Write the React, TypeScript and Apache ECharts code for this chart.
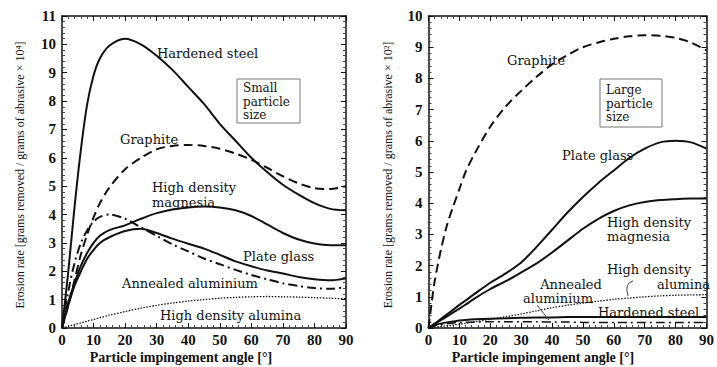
import React, { useEffect, useRef } from "react";
import * as echarts from "echarts";

// ---------- Left panel: small particle size ----------
const anglesL = [0, 2, 4, 6, 8, 10, 12, 15, 20, 25, 30, 35, 40, 45, 50, 55, 60, 65, 70, 75, 80, 85, 90];
const steelL = [0, 2.0, 4.3, 6.3, 7.9, 8.9, 9.5, 9.95, 10.2, 10.0, 9.6, 9.1, 8.5, 7.9, 7.2, 6.6, 6.0, 5.5, 5.05, 4.7, 4.4, 4.2, 4.15];
const graphiteL = [0, 0.8, 1.7, 2.6, 3.3, 3.9, 4.4, 4.95, 5.6, 6.0, 6.3, 6.42, 6.45, 6.42, 6.32, 6.15, 5.93, 5.65, 5.35, 5.1, 4.93, 4.9, 5.0];
const magnesiaL = [0, 0.9, 1.6, 2.2, 2.65, 3.0, 3.25, 3.45, 3.62, 3.85, 4.05, 4.18, 4.25, 4.28, 4.25, 4.15, 3.95, 3.65, 3.35, 3.12, 2.98, 2.92, 2.92];
const plateGlassL = [0, 0.8, 1.5, 2.0, 2.45, 2.75, 3.0, 3.2, 3.42, 3.5, 3.35, 3.15, 2.97, 2.8, 2.58, 2.35, 2.18, 2.03, 1.92, 1.8, 1.72, 1.68, 1.75];
const aluminiumL = [0, 1.3, 2.3, 3.0, 3.45, 3.75, 3.92, 4.0, 3.85, 3.55, 3.25, 2.95, 2.7, 2.45, 2.25, 2.05, 1.87, 1.72, 1.58, 1.48, 1.41, 1.38, 1.45];
const aluminaL = [0, 0.06, 0.12, 0.18, 0.24, 0.3, 0.36, 0.45, 0.58, 0.7, 0.8, 0.88, 0.95, 1.0, 1.05, 1.08, 1.1, 1.11, 1.1, 1.09, 1.07, 1.05, 1.03];

// ---------- Right panel: large particle size ----------
const anglesR = [0, 1, 2, 4, 6, 8, 10, 12, 15, 20, 25, 30, 35, 40, 45, 50, 55, 60, 65, 70, 75, 80, 85, 90];
const graphiteR = [0, 0.8, 1.5, 2.5, 3.3, 3.9, 4.45, 5.0, 5.6, 6.45, 7.1, 7.6, 8.05, 8.45, 8.75, 9.0, 9.15, 9.27, 9.35, 9.38, 9.37, 9.3, 9.15, 8.9];
const plateGlassR = [0, 0.07, 0.14, 0.29, 0.44, 0.59, 0.74, 0.88, 1.1, 1.45, 1.75, 2.1, 2.6, 3.15, 3.7, 4.2, 4.65, 5.05, 5.45, 5.75, 5.95, 6.0, 5.95, 5.75];
const magnesiaR = [0, 0.06, 0.12, 0.25, 0.37, 0.5, 0.62, 0.75, 0.95, 1.25, 1.5, 1.78, 2.07, 2.42, 2.8, 3.18, 3.5, 3.75, 3.93, 4.04, 4.1, 4.13, 4.15, 4.15];
const aluminaR = [0, 0.01, 0.02, 0.05, 0.07, 0.1, 0.12, 0.15, 0.2, 0.28, 0.36, 0.45, 0.55, 0.65, 0.73, 0.8, 0.86, 0.92, 0.96, 1.0, 1.03, 1.05, 1.06, 1.07];
const steelR = [0, 0.05, 0.09, 0.14, 0.18, 0.21, 0.24, 0.26, 0.28, 0.3, 0.31, 0.33, 0.34, 0.34, 0.35, 0.35, 0.35, 0.35, 0.35, 0.35, 0.35, 0.35, 0.35, 0.35];
const aluminiumR = [0, 0.04, 0.07, 0.11, 0.14, 0.16, 0.17, 0.18, 0.19, 0.2, 0.2, 0.2, 0.2, 0.19, 0.19, 0.18, 0.18, 0.18, 0.18, 0.18, 0.18, 0.18, 0.18, 0.18];

const xTicks = [0, 10, 20, 30, 40, 50, 60, 70, 80, 90];

const INK = "#111111";
const SERIF = "'Liberation Serif', 'DejaVu Serif', serif";
const LABEL = "'DejaVu Serif', 'Liberation Serif', serif";

function pairs(xs: number[], ys: number[]) {
  return xs.map((x, i) => [x, ys[i]]);
}

type Style = "solid" | "dashed" | "dashdot" | "dotted";
function lineType(s: Style): any {
  if (s === "dashed") return [9, 5];
  if (s === "dashdot") return [9, 4, 2, 4];
  if (s === "dotted") return [1.5, 1.5];
  return "solid";
}

function mk(name: string, xs: number[], ys: number[], gi: number, st: Style, w = 2) {
  return {
    name,
    type: "line",
    xAxisIndex: gi * 2,
    yAxisIndex: gi * 2,
    data: pairs(xs, ys),
    smooth: 0.3,
    showSymbol: false,
    symbol: "none",
    lineStyle: { color: INK, width: st === "dotted" ? 1.3 : w, type: lineType(st) },
    z: 3,
  };
}

function xAxisPair(gi: number) {
  const base = {
    type: "value",
    gridIndex: gi,
    min: 0,
    max: 90,
    interval: 10,
    splitLine: { show: false },
    axisLine: { show: true, onZero: false, lineStyle: { color: INK, width: 1.5 } },
    axisTick: { show: true, inside: true, length: 5, lineStyle: { color: INK } },
    minorTick: { show: true, splitNumber: 5, length: 3, lineStyle: { color: "#444" } },
  };
  return [
    {
      ...base,
      position: "bottom",
      axisLabel: {
        show: true,
        margin: 4,
        color: INK,
        fontFamily: SERIF,
        fontSize: 15,
        fontWeight: "bold",
        formatter: (v: number) => (xTicks.includes(v) ? String(v) : ""),
      },
    },
    { ...base, position: "top", axisLabel: { show: false } },
  ];
}

function yAxisPair(gi: number, max: number) {
  const base = {
    type: "value",
    gridIndex: gi,
    min: 0,
    max,
    interval: 1,
    splitLine: { show: false },
    axisLine: { show: true, onZero: false, lineStyle: { color: INK, width: 1.5 } },
    axisTick: { show: true, inside: true, length: 5, lineStyle: { color: INK } },
    minorTick: { show: true, splitNumber: 5, length: 3, lineStyle: { color: "#444" } },
  };
  return [
    {
      ...base,
      position: "left",
      axisLabel: { show: true, margin: 6, color: INK, fontFamily: SERIF, fontSize: 15, fontWeight: "bold" },
    },
    { ...base, position: "right", axisLabel: { show: false } },
  ];
}

function txt(text: string, x: number, y: number, opts: any = {}) {
  return {
    type: "text",
    x,
    y,
    z: 10,
    style: {
      text,
      fill: INK,
      fontFamily: opts.family ?? LABEL,
      fontSize: opts.size ?? 13,
      fontWeight: opts.weight ?? "normal",
      align: opts.align ?? "left",
      verticalAlign: "middle",
    },
    rotation: opts.rot ?? 0,
  };
}

export default function App() {
  const ref = useRef<HTMLDivElement>(null);
  useEffect(() => {
    document.body.style.margin = "0";
    const chart = echarts.init(ref.current!, undefined, { renderer: "svg" });
    const option: any = {
      animation: false,
      backgroundColor: "#ffffff",
      grid: [
        { left: 62, top: 16, width: 284, height: 312 },
        { left: 428.5, top: 16, width: 284, height: 312 },
      ],
      xAxis: [...xAxisPair(0), ...xAxisPair(1)],
      yAxis: [...yAxisPair(0, 11), ...yAxisPair(1, 10)],
      series: [
        mk("Hardened steel", anglesL, steelL, 0, "solid"),
        mk("Graphite", anglesL, graphiteL, 0, "dashed"),
        mk("High density magnesia", anglesL, magnesiaL, 0, "solid"),
        mk("Plate glass", anglesL, plateGlassL, 0, "solid"),
        mk("Annealed aluminium", anglesL, aluminiumL, 0, "dashdot"),
        mk("High density alumina", anglesL, aluminaL, 0, "dotted"),
        mk("Graphite (large)", anglesR, graphiteR, 1, "dashed"),
        mk("Plate glass (large)", anglesR, plateGlassR, 1, "solid"),
        mk("High density magnesia (large)", anglesR, magnesiaR, 1, "solid"),
        mk("High density alumina (large)", anglesR, aluminaR, 1, "dotted"),
        mk("Hardened steel (large)", anglesR, steelR, 1, "solid"),
        mk("Annealed aluminium (large)", anglesR, aluminiumR, 1, "dashdot", 1.5),
      ],
      graphic: [
        // axis titles
        txt("Erosion rate [grams removed / grams of abrasive × 10⁴]", 20, 175, { rot: Math.PI / 2, size: 12, family: SERIF, align: "center" }),
        txt("Erosion rate [grams removed / grams of abrasive × 10²]", 388, 175, { rot: Math.PI / 2, size: 12, family: SERIF, align: "center" }),
        txt("Particle impingement angle [°]", 181, 357, { size: 14, family: SERIF, weight: "bold", align: "center" }),
        txt("Particle impingement angle [°]", 543, 357, { size: 14, family: SERIF, weight: "bold", align: "center" }),
        // left panel labels
        txt("Hardened steel", 157, 53),
        txt("Graphite", 120, 139),
        txt("High density", 152, 187),
        txt("magnesia", 152, 202),
        txt("Plate glass", 243, 256),
        txt("Annealed aluminium", 122, 283),
        txt("High density alumina", 160, 315),
        {
          type: "rect",
          shape: { x: 237, y: 79, width: 63, height: 44 },
          style: { fill: "none", stroke: "#777", lineWidth: 1 },
          z: 9,
        },
        txt("Small", 243, 88, { size: 12 }),
        txt("particle", 243, 101.5, { size: 12 }),
        txt("size", 243, 115, { size: 12 }),
        // right panel labels
        txt("Graphite", 507, 60),
        {
          type: "rect",
          shape: { x: 600, y: 79, width: 62, height: 48 },
          style: { fill: "none", stroke: "#777", lineWidth: 1 },
          z: 9,
        },
        txt("Large", 606, 90, { size: 12 }),
        txt("particle", 606, 103.5, { size: 12 }),
        txt("size", 606, 117, { size: 12 }),
        txt("Plate glass", 562, 155),
        txt("High density", 607, 222),
        txt("magnesia", 607, 236),
        txt("High density", 607, 269),
        txt("alumina", 710, 284, { align: "right" }),
        txt("Annealed", 571, 284, { align: "center" }),
        txt("aluminium", 558, 298, { align: "center" }),
        txt("Hardened steel", 598, 312),
        {
          type: "bezierCurve",
          shape: { x1: 633, y1: 281, cpx1: 624, cpy1: 283, x2: 628, y2: 296 },
          style: { stroke: "#444", lineWidth: 1, fill: "none" },
          z: 9,
        },
        {
          type: "line",
          shape: { x1: 537, y1: 305, x2: 549, y2: 320 },
          style: { stroke: "#444", lineWidth: 1 },
          z: 9,
        },
      ],
    };
    chart.setOption(option);
    return () => chart.dispose();
  }, []);
  return <div ref={ref} style={{ width: 717, height: 367 }} />;
}
